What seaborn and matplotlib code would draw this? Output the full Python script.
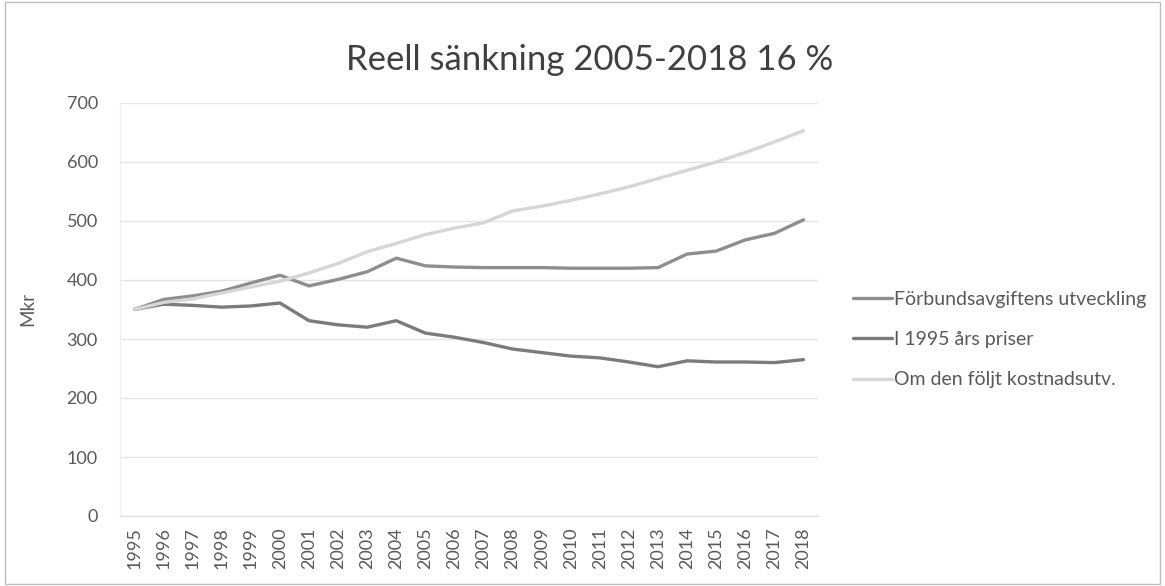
import pandas as pd
import matplotlib.pyplot as plt
import seaborn as sns
from matplotlib.patches import Rectangle

sns.set_style("white")
plt.rcParams['font.family'] = ['Lato', 'DejaVu Sans']

years = list(range(1995, 2019))
forbund = [350, 367, 373, 381, 395, 408, 390, 401, 414, 437, 424, 422, 421, 421, 421, 420,
           420, 420, 421, 444, 449, 468, 479, 502]
priser_1995 = [350, 359, 357, 354, 356, 361, 331, 324, 320, 331, 310, 303, 294, 283, 277, 271,
               268, 261, 253, 263, 261, 261, 260, 265]
kostnad = [350, 362, 368, 378, 388, 398, 412, 428, 448, 462, 477, 488, 497, 517, 525, 535,
           546, 558, 572, 586, 600, 616, 634, 653]

names = ["Förbundsavgiftens utveckling", "I 1995 års priser", "Om den följt kostnadsutv."]

df = pd.DataFrame({"year": years, names[0]: forbund, names[1]: priser_1995, names[2]: kostnad})
long = df.melt(id_vars="year", var_name="serie", value_name="Mkr")
long["pos"] = long["year"] - 1995

fig = plt.figure(figsize=(11.65, 5.86), dpi=100)
ax = fig.add_axes([120 / 1165, 1 - 516 / 586, 698 / 1165, 413 / 586])

sns.lineplot(data=long, x="pos", y="Mkr", hue="serie", hue_order=names,
             palette=["#8e8e8e", "#7b7b7b", "#d6d6d6"], linewidth=2.4, ax=ax)

ax.set_xlim(-0.5, 23.5)
ax.set_ylim(0, 700)
ax.set_yticks(range(0, 701, 100))
ax.set_xticks(range(len(years)))
ax.set_xticklabels([str(y) for y in years], rotation=90)
ax.tick_params(axis="both", colors="#595959", labelsize=13, length=0)
ax.tick_params(axis="y", pad=16)
ax.tick_params(axis="x", pad=8)
ax.grid(axis="y", color="#e4e4e4", linewidth=1)
ax.set_xlabel("")
ax.set_ylabel("Mkr", fontsize=13.5, color="#595959", labelpad=22)
for s in ["top", "right"]:
    ax.spines[s].set_visible(False)
ax.spines["left"].set_color("#eeeeee")
ax.spines["bottom"].set_color("#dddddd")

fig.text(590 / 1165, 1 - 60 / 586, "Reell sänkning 2005-2018 16 %", ha="center", va="center",
         fontsize=25, color="#404040")

ax.legend(loc="center left", bbox_to_anchor=(1.025, 0.427), frameon=False, fontsize=14,
          handlelength=2.0, handletextpad=0.1, labelspacing=1.2, labelcolor="#595959")

fig.patches.append(Rectangle((0.004, 0.004), 0.992, 0.992, transform=fig.transFigure,
                             fill=False, edgecolor="#bdbdbd", linewidth=1))

fig.savefig("out.png", dpi=100)
